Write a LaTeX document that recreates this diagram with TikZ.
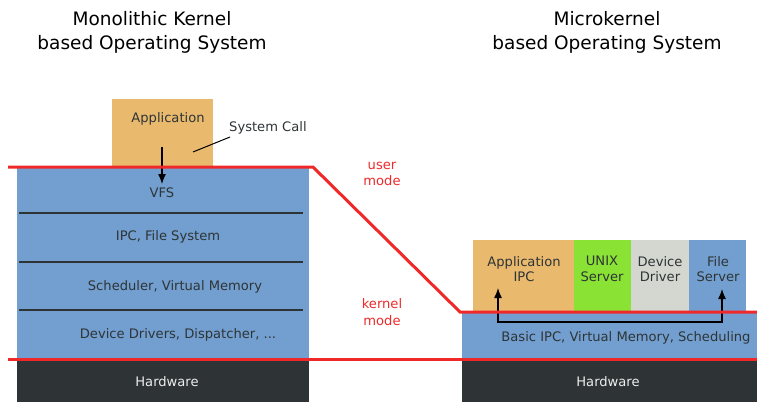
\documentclass[tikz,border=0pt]{standalone}
\usepackage{fontspec}
\setmainfont{DejaVu Sans}
\usetikzlibrary{arrows.meta}
\definecolor{kblue}{HTML}{729FCF}
\definecolor{kdark}{HTML}{2E3436}
\definecolor{korange}{HTML}{E9B96E}
\definecolor{kgreen}{HTML}{8AE234}
\definecolor{kgray}{HTML}{D3D7CF}
\definecolor{kred}{HTML}{EF2929}
\definecolor{ktext}{HTML}{2E3436}
\begin{document}
\begin{tikzpicture}[x=1pt,y=-1pt,
  lbl/.style={font=\fontsize{13.1}{15.5}\selectfont, text=ktext, align=center, inner sep=0},
  hw/.style={font=\fontsize{13.1}{15.5}\selectfont, text=white!93!black, inner sep=0},
  ttl/.style={font=\fontsize{18.5}{24}\selectfont, text=black, align=center, inner sep=0},
  mode/.style={font=\fontsize{13.1}{16.5}\selectfont, text=kred, align=center, inner sep=0},
  redline/.style={draw=kred, line width=3pt},
  divl/.style={draw=kdark, line width=1.4pt},
  arr/.style={draw=black, line width=1.3pt, -{Latex[length=10pt,width=8pt]}}]
\useasboundingbox (0,0) rectangle (757,402);
% titles
\node[ttl] (t1) at (152,32) {Monolithic Kernel\\based Operating System};
\node[ttl] (t2) at (607,32) {Microkernel\\based Operating System};
% left column
\fill[korange] (112,99) rectangle (213,167);
\fill[kblue] (17,167) rectangle (309,359);
\fill[kdark] (17,359) rectangle (309,402);
\coordinate (d1a) at (19,213); \coordinate (d1b) at (303,213);
\coordinate (d2a) at (19,262); \coordinate (d2b) at (303,262);
\coordinate (d3a) at (19,310); \coordinate (d3b) at (303,310);
\draw[divl] (d1a) -- (d1b);
\draw[divl] (d2a) -- (d2b);
\draw[divl] (d3a) -- (d3b);
\node[lbl] (app) at (168,119) {Application};
\node[lbl, anchor=west] (sc) at (229,128) {System Call};
\coordinate (scs) at (230,137);
\coordinate (scend) at (193,152);
\draw[draw=black, line width=1pt] (scs) -- (scend);
\node[lbl] (vfs) at (162,193) {VFS};
\coordinate (arrs) at (162,147);
\coordinate (arre) at (162,184);
\draw[arr] (arrs) -- (arre);
\node[lbl] (ipcfs) at (168,237) {IPC, File System};
\node[lbl] (sched) at (175,287) {Scheduler, Virtual Memory};
\node[lbl] (dd) at (178,335) {Device Drivers, Dispatcher, ...};
\node[hw] (hw1) at (167,382) {Hardware};
% right column
\fill[korange] (473,240) rectangle (574,312);
\fill[kgreen] (574,240) rectangle (631,312);
\fill[kgray] (631,240) rectangle (689,312);
\fill[kblue] (689,240) rectangle (746,312);
\fill[kblue] (462,312) rectangle (757,359);
\fill[kdark] (462,359) rectangle (757,402);
\node[lbl] (aipc) at (524,269) {Application\\IPC};
\node[lbl] (unix) at (602,269) {UNIX\\Server};
\node[lbl] (devd) at (660,269) {Device\\Driver};
\node[lbl] (fsrv) at (718,269) {File\\Server};
\node[lbl] (basic) at (626,338) {Basic IPC, Virtual Memory, Scheduling};
\node[hw] (hw2) at (608,382) {Hardware};
\coordinate (ipcl) at (498,322);
\coordinate (ipcr) at (722,322);
\coordinate (tipl) at (498,288);
\coordinate (tipr) at (722,289);
\draw[arr] (ipcr) -- (ipcl) -- (tipl);
\draw[arr] (ipcl) -- (ipcr) -- (tipr);
% red boundary lines
\coordinate (r1) at (8,167); \coordinate (r2) at (313,167);
\coordinate (r3) at (460,312); \coordinate (r4) at (757,312);
\draw[redline] (r1) -- (r2) -- (r3) -- (r4);
\coordinate (r5) at (8,359); \coordinate (r6) at (757,359);
\draw[redline] (r5) -- (r6);
\node[mode] (um) at (382,174) {user\\mode};
\node[mode] (km) at (382,312) {kernel\\mode};
\end{tikzpicture}
\end{document}
